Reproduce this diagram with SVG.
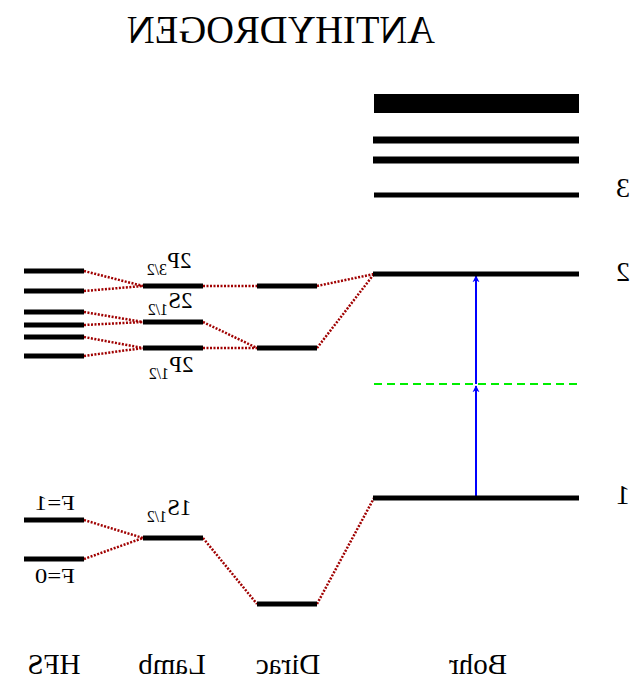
<svg xmlns="http://www.w3.org/2000/svg" width="643" height="680" viewBox="0 0 643 680">
<style>
.lvl{stroke:#000;stroke-width:5;}
.lvlt{stroke:#000;stroke-width:7;}
.con{stroke:#a00000;stroke-width:2.5;stroke-dasharray:2 1.5;fill:none;}
.t{font-family:"Liberation Serif","Times New Roman",serif;fill:#000;text-anchor:middle;}
.lab{font-size:23px;}
.sub{font-size:16px;}
.flab{font-size:22px;}
.axis{font-size:29px;}
.num{font-size:28px;}
</style>
<defs>
<marker id="ah" viewBox="0 0 10 10" refX="9" refY="5" markerWidth="7" markerHeight="9" markerUnits="userSpaceOnUse" orient="auto">
<path d="M0,0 L10,5 L0,10 L3,5 z" fill="#0000ff"/>
</marker>
</defs>
<rect width="643" height="680" fill="#fff"/>
<text class="t" font-size="40" transform="translate(281,43) scale(-1,1)" textLength="308" lengthAdjust="spacingAndGlyphs">ANTIHYDROGEN</text>

<g id="connectors">
<line class="con" x1="84" y1="271" x2="143" y2="286"/>
<line class="con" x1="84" y1="291" x2="143" y2="286"/>
<line class="con" x1="84" y1="312" x2="143" y2="322"/>
<line class="con" x1="84" y1="325" x2="143" y2="322"/>
<line class="con" x1="84" y1="337" x2="143" y2="348"/>
<line class="con" x1="84" y1="356" x2="143" y2="348"/>
<line class="con" x1="84" y1="520" x2="143" y2="538"/>
<line class="con" x1="84" y1="559" x2="143" y2="538"/>
<line class="con" x1="203" y1="286" x2="257" y2="286"/>
<line class="con" x1="203" y1="322" x2="257" y2="348"/>
<line class="con" x1="203" y1="348" x2="257" y2="348"/>
<line class="con" x1="203" y1="538" x2="257" y2="604"/>
<line class="con" x1="317" y1="286" x2="374" y2="274"/>
<line class="con" x1="317" y1="348" x2="374" y2="274"/>
<line class="con" x1="317" y1="604" x2="374" y2="498"/>
<line x1="374" y1="384" x2="579" y2="384" stroke="#00ee00" stroke-width="2" stroke-dasharray="8 5"/>
<line x1="476" y1="498" x2="476" y2="386" stroke="#0000ff" stroke-width="2" marker-end="url(#ah)"/>
<line x1="476" y1="384" x2="476" y2="276" stroke="#0000ff" stroke-width="2" marker-end="url(#ah)"/>
</g>

<g id="hfs">
<line class="lvl" x1="24" y1="271" x2="84" y2="271"/>
<line class="lvl" x1="24" y1="291" x2="84" y2="291"/>
<line class="lvl" x1="24" y1="312" x2="84" y2="312"/>
<line class="lvl" x1="24" y1="325" x2="84" y2="325"/>
<line class="lvl" x1="24" y1="337" x2="84" y2="337"/>
<line class="lvl" x1="24" y1="356" x2="84" y2="356"/>
<line class="lvl" x1="24" y1="520" x2="84" y2="520"/>
<line class="lvl" x1="24" y1="559" x2="84" y2="559"/>
<text class="t flab" transform="translate(55,510) scale(-1,1)" textLength="40" lengthAdjust="spacingAndGlyphs">F=1</text>
<text class="t flab" transform="translate(55,583) scale(-1,1)" textLength="40" lengthAdjust="spacingAndGlyphs">F=0</text>
<text class="t axis" transform="translate(54,674) scale(-1,1)">HFS</text>
</g>

<g id="lamb">
<line class="lvl" x1="143" y1="286" x2="203" y2="286"/>
<line class="lvl" x1="143" y1="322" x2="203" y2="322"/>
<line class="lvl" x1="143" y1="348" x2="203" y2="348"/>
<line class="lvl" x1="143" y1="538" x2="203" y2="538"/>
<text class="t lab" transform="translate(169,268) scale(-1,1)">2P<tspan class="sub" dy="7">3/2</tspan></text>
<text class="t lab" transform="translate(170,308) scale(-1,1)">2S<tspan class="sub" dy="7">1/2</tspan></text>
<text class="t lab" transform="translate(171,372) scale(-1,1)">2P<tspan class="sub" dy="7">1/2</tspan></text>
<text class="t lab" transform="translate(169,515) scale(-1,1)">1S<tspan class="sub" dy="7">1/2</tspan></text>
<text class="t axis" transform="translate(172,674) scale(-1,1)">Lamb</text>
</g>

<g id="dirac">
<line class="lvl" x1="257" y1="286" x2="317" y2="286"/>
<line class="lvl" x1="257" y1="348" x2="317" y2="348"/>
<line class="lvl" x1="257" y1="604" x2="317" y2="604"/>
<text class="t axis" transform="translate(288,674) scale(-1,1)">Dirac</text>
</g>

<g id="bohr">
<rect x="374" y="94" width="205" height="19" fill="#000"/>
<line class="lvlt" x1="373" y1="140" x2="579" y2="140"/>
<line class="lvlt" x1="373" y1="160" x2="579" y2="160"/>
<line class="lvl" x1="374" y1="195" x2="579" y2="195"/>
<line class="lvl" x1="373" y1="274" x2="579" y2="274"/>
<line class="lvl" x1="373" y1="498" x2="579" y2="498"/>
<text class="t num" transform="translate(623,197) scale(-1,1)">3</text>
<text class="t num" transform="translate(623,281) scale(-1,1)">2</text>
<text class="t num" transform="translate(623,504) scale(-1,1)">1</text>
<text class="t axis" transform="translate(478,674) scale(-1,1)">Bohr</text>
</g>
</svg>
